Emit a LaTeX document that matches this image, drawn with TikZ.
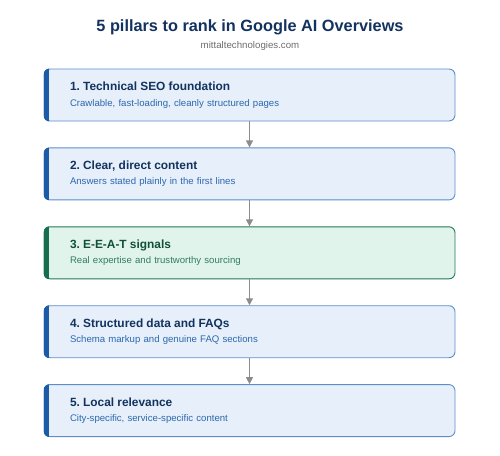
\documentclass[tikz,border=0pt]{standalone}
\usepackage{fontspec}
\setmainfont{Liberation Sans}
\usetikzlibrary{positioning,arrows.meta}
\frenchspacing

\definecolor{navy}{HTML}{12325F}
\definecolor{bluefill}{HTML}{E7F0FA}
\definecolor{blueline}{HTML}{5C8ECB}
\definecolor{bluebar}{HTML}{1C5CA6}
\definecolor{bluetext}{HTML}{2B67AD}
\definecolor{greenfill}{HTML}{E1F4EC}
\definecolor{greenline}{HTML}{237A58}
\definecolor{greenbar}{HTML}{166E4E}
\definecolor{greentitle}{HTML}{10503A}
\definecolor{greentext}{HTML}{2F7D5C}

\tikzset{
  pillar/.style={draw=blueline, fill=bluefill, line width=0.9pt, rounded corners=6pt,
    minimum width=411pt, minimum height=52pt, text width=359pt, inner xsep=26pt,
    align=left, font=\fontsize{9.6}{11}\selectfont, text=bluetext},
  greenpillar/.style={pillar, draw=greenline, fill=greenfill, text=greentext},
  link/.style={draw=gray!90, line width=1.2pt, -{Triangle[length=7pt,width=7pt]}}
}
\newcommand{\ptitle}[1]{{\fontsize{11.9}{14}\selectfont\bfseries #1}\\[4.5pt]}

\begin{document}
\begin{tikzpicture}[x=1pt, y=1pt, node distance=26pt]
  \useasboundingbox (0,0) rectangle (500,-455);

  % Heading
  \node[font=\fontsize{16.3}{20}\selectfont\bfseries, text=navy] (head) at (250,-27) {5 pillars to rank in Google AI Overviews};
  \node[font=\fontsize{9.7}{11}\selectfont, text=gray!85!black] (site) at (250,-46) {mittaltechnologies.com};

  % Pillars
  \node[pillar] (p1) at (249.5,-95) {\textcolor{navy}{\ptitle{1. Technical SEO foundation}}Crawlable, fast-loading, cleanly structured pages};
  \node[pillar, below=of p1] (p2) {\textcolor{navy}{\ptitle{2. Clear, direct content}}Answers stated plainly in the first lines};
  \node[greenpillar, below=of p2] (p3) {\textcolor{greentitle}{\ptitle{3. E-E-A-T signals}}Real expertise and trustworthy sourcing};
  \node[pillar, below=of p3] (p4) {\textcolor{navy}{\ptitle{4. Structured data and FAQs}}Schema markup and genuine FAQ sections};
  \node[pillar, below=of p4] (p5) {\textcolor{navy}{\ptitle{5. Local relevance}}City-specific, service-specific content};

  % Side bars
  \foreach \p/\c in {p1/bluebar, p2/bluebar, p3/greenbar, p4/bluebar, p5/bluebar} {
    \begin{scope}
      \clip[rounded corners=6pt] (\p.south west) rectangle (\p.north east);
      \fill[\c] ([yshift=-1pt]\p.south west) rectangle ([xshift=5.5pt,yshift=1pt]\p.north west);
    \end{scope}
  }

  % Edges
  \draw[link] (p1) -- (p2);
  \draw[link] (p2) -- (p3);
  \draw[link] (p3) -- (p4);
  \draw[link] (p4) -- (p5);

\end{tikzpicture}
\end{document}
